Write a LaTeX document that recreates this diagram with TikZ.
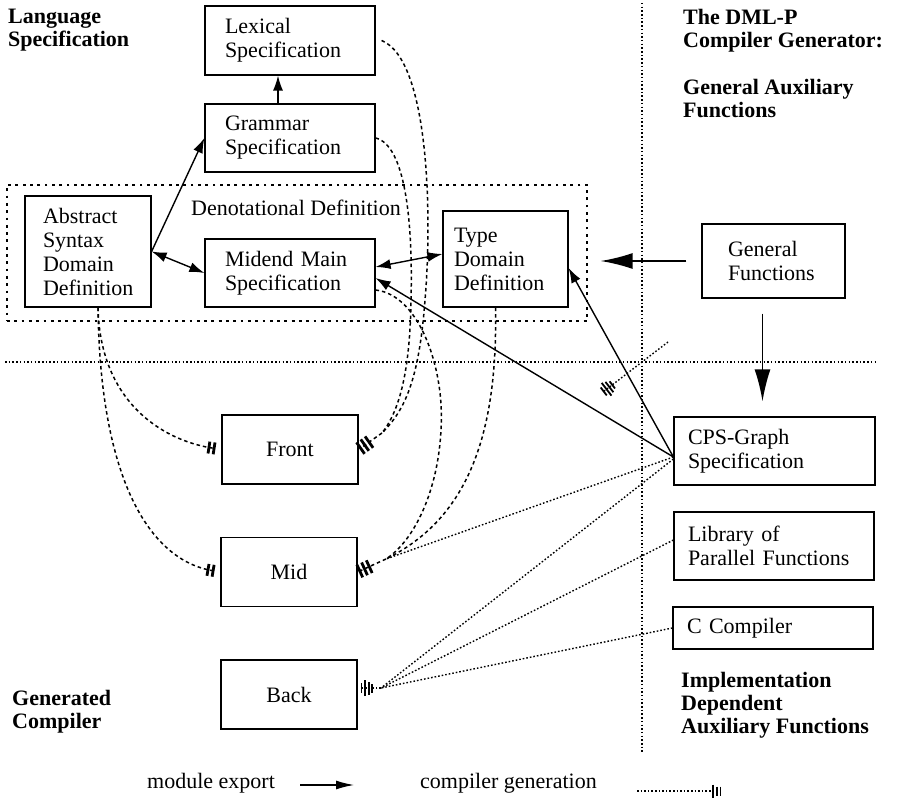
\documentclass[tikz,border=0pt]{standalone}
\usepackage{fontspec}
\setmainfont{Liberation Serif}
\usetikzlibrary{arrows.meta}
\begin{document}
\begin{tikzpicture}[x=1pt,y=-1pt,
  every node/.style={font=\fontsize{22}{24}\selectfont},
  box/.style={draw,line width=1.2pt,align=left,inner ysep=0pt},
  plainbox/.style={draw,line width=1.2pt,minimum width=136pt,minimum height=69pt,inner sep=0pt},
  lbl/.style={anchor=base west,align=left,inner sep=0pt,font=\bfseries\fontsize{22}{23}\selectfont},
  exp/.style={line width=1.4pt,-{Latex[length=15pt,width=10pt]}},
  expb/.style={line width=1.4pt,{Latex[length=15pt,width=10pt]}-{Latex[length=15pt,width=10pt]}},
  bigexp/.style={line width=1.8pt,-{Latex[length=32pt,width=16pt]}},
  gen/.style={line width=1.5pt,dash pattern=on 3.5pt off 3pt},
  gdot/.style={line width=1.4pt,dash pattern=on 1.6pt off 2pt},
  divider/.style={line width=1.4pt,dash pattern=on 1.5pt off 2.2pt},
  denbox/.style={draw,line width=1.3pt,dash pattern=on 2.8pt off 4.5pt,inner sep=0pt},
  hthree/.style={-{Bar[width=14pt,line width=2.8pt,sep=2.4pt]Bar[width=14pt,line width=2.8pt,sep=2.4pt]Bar[width=14pt,line width=2.8pt]}},
  htwo/.style={-{Bar[width=12pt,line width=2.8pt,sep=2.4pt]Bar[width=12pt,line width=2.8pt]}},
  hfour/.style={-{Bar[width=9pt,line width=1.8pt,sep=1.8pt]Bar[width=13pt,line width=1.8pt,sep=1.8pt]Bar[width=16pt,line width=1.8pt,sep=1.8pt]Bar[width=10pt,line width=1.8pt]}},
  hleg/.style={-{Bar[width=13pt,line width=2.6pt,sep=2pt]Bar[width=9pt,line width=1.4pt,sep=2pt]Bar[width=9pt,line width=1.4pt]}}
]
\useasboundingbox (0,0) rectangle (897,805);

% dividers
\draw[divider] (5,362) -- (876,362);
\draw[divider] (642,3) -- (642,753);

% Denotational definition group
\node[denbox,minimum width=580pt,minimum height=136pt] (den) at (297,253) {};
\node (denlabel) at (296,208) {Denotational Definition};

% boxes
\node[box,text width=130pt,inner xsep=20pt,minimum height=69pt] (Lexical) at (290,40.5) {Lexical\\Specification};
\node[box,text width=130pt,inner xsep=20pt,minimum height=68pt] (Grammar) at (290,138) {Grammar\\Specification};
\node[box,text width=90pt,inner xsep=18pt,minimum height=111pt] (Abstract) at (88,251.5) {Abstract\\Syntax\\Domain\\Definition};
\node[box,text width=130pt,inner xsep=20pt,minimum height=68pt] (Midend) at (290,273) {Midend Main\\Specification};
\node[box,text width=103pt,inner xsep=11pt,minimum height=96pt] (Type) at (505.5,259) {Type\\Domain\\Definition};
\node[box,text width=91pt,inner xsep=26pt,minimum height=74pt] (General) at (773.5,261) {General\\Functions};
\node[box,text width=173pt,inner xsep=14pt,minimum height=68pt] (CPS) at (774.5,451) {CPS-Graph\\Specification};
\node[box,text width=172pt,inner xsep=14pt,minimum height=68pt] (Library) at (774,546) {Library of\\Parallel Functions};
\node[box,text width=172pt,inner xsep=14pt,minimum height=42pt] (CComp) at (773,628) {C Compiler};
\node[plainbox] (Front) at (290,449.5) {Front};
\node[plainbox] (Mid) at (289,572) {Mid};
\node[plainbox] (Back) at (289,694.5) {Back};

% section labels (anchor = baseline of last line)
\node[lbl] (langspec) at (8,47) {Language\\Specification};
\node[lbl] (dmlp) at (683,48) {The DML-P\\Compiler Generator:};
\node[lbl] (genaux) at (683,118) {General Auxiliary\\Functions};
\node[lbl] (gencomp) at (12,728) {Generated\\Compiler};
\node[lbl] (impl) at (681,733) {Implementation\\Dependent\\Auxiliary Functions};

% module export connectors
\draw[exp] ([xshift=-12pt]Grammar.north) -- ([xshift=-12pt]Lexical.south);
\draw[exp] (Abstract.east) -- (Grammar.west);
\draw[expb] (Abstract.east) -- (Midend.west);
\draw[expb] ([yshift=6pt]Midend.east) -- ([yshift=5pt]Type.west);
\draw[exp] ([yshift=-6pt]CPS.west) -- ([yshift=-5pt]Midend.east);
\draw[exp] ([yshift=-6pt]CPS.west) -- ([yshift=-9pt]Type.east);
\draw[bigexp,shorten <=15pt,shorten >=32pt] (General.west) -- (General.west -| Type.east);
\draw[bigexp,shorten <=15pt,shorten >=15pt] ([xshift=-11pt]General.south) -- ([xshift=-11pt]General.south |- CPS.north);

% compiler generation connectors
\coordinate (fin) at (382,433);
\coordinate (min) at (386,559);
\coordinate (bin) at (381,688);
\draw[gen] ([xshift=6pt]Lexical.east) .. controls (430,60) and (432,220) .. (425,300)
   .. controls (419,380) and (405,410) .. (fin);
\draw[gen] (Grammar.east) .. controls (405,145) and (413,220) .. (411,300)
   .. controls (410,370) and (400,410) .. (fin);
\draw[gen,hthree,shorten >=1pt] (fin) -- (Front.east);
\draw[gen] ([yshift=-17pt]Midend.east) .. controls (420,295) and (445,370) .. (441,430)
   .. controls (438,490) and (415,540) .. (min);
\draw[gen] ([xshift=-10pt]Type.south) .. controls (498,440) and (465,520) .. (min);
\draw[gdot] ([yshift=-6pt]CPS.west) -- (min);
\draw[gen,hthree,shorten >=1pt] (min) -- (Mid.east);
\draw[gen,htwo,shorten >=6pt] ([xshift=10pt]Abstract.south) .. controls (100,400) and (160,440) .. (Front.west);
\draw[gen,htwo,shorten >=6pt] ([xshift=10pt]Abstract.south) .. controls (100,480) and (150,560) .. (Mid.west);
\draw[gdot] ([yshift=-8pt]CPS.west) -- (bin);
\draw[gdot] ([yshift=6pt]Library.west) -- (bin);
\draw[gdot] (CComp.west) -- (bin);
\draw[gdot,hfour,shorten >=3pt] (bin) -- (bin -| Back.east);

% stray cut mark
\coordinate (s1) at (668,342);
\coordinate (s2) at (603,392);
\draw[gdot,hfour] (s1) -- (s2);

% legend
\node[anchor=base west,inner sep=0pt] (lgexp) at (147,788) {module export};
\coordinate (la1) at (300,785);
\coordinate (la2) at (354,785);
\draw[line width=1.4pt,-{Latex[length=18pt,width=9pt]}] (la1) -- (la2);
\node[anchor=base west,inner sep=0pt] (lggen) at (420,788) {compiler generation};
\coordinate (lg1) at (637,791);
\coordinate (lg2) at (721,791);
\draw[gdot,hleg] (lg1) -- (lg2);
\end{tikzpicture}
\end{document}
